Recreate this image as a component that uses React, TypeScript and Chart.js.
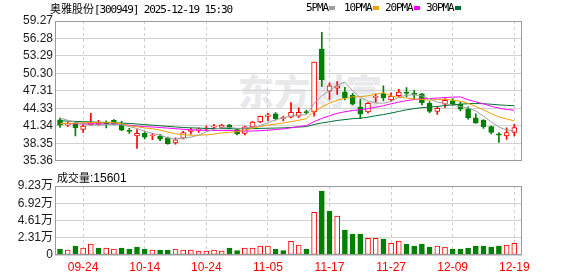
import React, { useEffect, useRef } from 'react';
import { Chart, registerables } from 'chart.js';

Chart.register(...registerables);

// ---------- data ----------
const dates = [
  '09-19', '09-22', '09-23', '09-24', '09-25', '09-26', '09-29', '09-30', '10-09', '10-10',
  '10-13', '10-14', '10-15', '10-16', '10-17', '10-20', '10-21', '10-22', '10-23', '10-24',
  '10-27', '10-28', '10-29', '10-30', '10-31', '11-03', '11-04', '11-05', '11-06', '11-07',
  '11-10', '11-11', '11-12', '11-13', '11-14', '11-17', '11-18', '11-19', '11-20', '11-21',
  '11-24', '11-25', '11-26', '11-27', '11-28', '12-01', '12-02', '12-03', '12-04', '12-05',
  '12-08', '12-09', '12-10', '12-11', '12-12', '12-15', '12-16', '12-17', '12-18', '12-19',
];

const opens = [
  42.38, 41.5, 41.83, 40.72, 41.5, 41.6, 41.9, 42.28, 41.45, 40.6,
  39.63, 40.06, 39.6, 39.6, 39.23, 38.4, 39.23, 40.4, 40.6, 40.8,
  41.1, 41.06, 41.46, 40.72, 40.06, 41.17, 42.0, 42.95, 43.38, 42.6,
  42.83, 43.0, 43.77, 43.71, 54.45, 47.27, 47.8, 47.15, 46.54, 44.5,
  43.7, 46.2, 46.87, 45.77, 46.5, 47.1, 46.9, 46.8, 45.2, 43.8,
  45.05, 45.6, 45.05, 44.2, 42.7, 42.3, 41.2, 39.97, 39.6, 40.2,
];
const highs = [
  42.66, 42.0, 42.0, 41.8, 43.5, 42.3, 42.2, 42.4, 42.1, 40.9,
  40.72, 40.3, 40.06, 39.9, 39.4, 39.3, 40.4, 40.9, 41.0, 41.3,
  41.6, 41.6, 41.6, 40.9, 41.3, 42.1, 43.0, 43.5, 43.6, 43.0,
  45.32, 44.4, 44.04, 52.26, 57.33, 48.64, 48.9, 47.93, 46.9, 45.87,
  45.3, 46.8, 48.2, 47.0, 47.6, 47.9, 47.4, 46.9, 45.5, 44.6,
  46.0, 46.0, 45.4, 44.6, 43.4, 42.4, 41.3, 40.2, 41.0, 41.6,
];
const lows = [
  41.06, 41.2, 39.63, 40.2, 41.4, 41.4, 41.0, 41.5, 40.5, 40.06,
  37.47, 39.1, 38.96, 38.8, 38.2, 38.2, 39.1, 39.9, 40.2, 40.5,
  40.9, 40.9, 40.8, 39.8, 39.8, 41.0, 41.9, 42.2, 42.3, 42.2,
  42.7, 42.8, 43.38, 43.0, 48.1, 45.87, 46.7, 45.77, 44.9, 42.55,
  43.5, 45.4, 45.6, 45.6, 46.2, 46.3, 46.0, 44.9, 43.6, 43.3,
  44.45, 44.8, 43.9, 42.5, 41.8, 40.9, 39.96, 38.5, 39.0, 39.6,
];
const closes = [
  41.44, 41.7, 41.0, 41.28, 41.83, 41.8, 41.7, 41.62, 40.62, 40.4,
  40.06, 39.4, 39.75, 39.06, 38.23, 38.96, 40.2, 40.6, 40.75, 40.95,
  41.3, 41.46, 40.9, 39.96, 41.17, 42.0, 42.95, 43.22, 42.55, 42.8,
  43.66, 43.66, 43.55, 52.26, 49.19, 48.2, 48.2, 46.15, 45.04, 43.38,
  45.2, 46.4, 46.1, 46.4, 47.1, 46.9, 46.7, 45.3, 43.8, 44.33,
  45.7, 45.05, 44.2, 42.7, 41.8, 41.2, 40.2, 39.73, 40.2, 41.06,
];

const ma5 = [
  42.66, 42.3, 41.95, 41.65, 41.45, 41.52, 41.52, 41.65, 41.51, 41.23,
  40.88, 40.42, 40.05, 39.73, 39.3, 39.08, 39.24, 39.41, 39.75, 40.29,
  40.76, 41.01, 41.07, 40.91, 40.96, 41.1, 41.4, 41.86, 42.38, 42.7,
  43.04, 43.18, 43.24, 45.19, 46.46, 47.37, 48.28, 48.8, 47.36, 46.19,
  45.59, 45.23, 45.22, 45.5, 46.24, 46.58, 46.64, 46.48, 45.96, 45.41,
  45.17, 44.84, 44.62, 44.4, 43.89, 42.99, 42.02, 41.13, 40.63, 40.48,
];
const ma10 = [
  41.7, 41.75, 41.8, 41.85, 41.9, 41.95, 41.95, 41.9, 41.7, 41.34,
  41.2, 40.97, 40.85, 40.62, 40.27, 39.98, 39.83, 39.73, 39.74, 39.8,
  39.92, 40.13, 40.24, 40.33, 40.63, 40.93, 41.21, 41.47, 41.65, 41.83,
  42.07, 42.29, 42.55, 43.79, 44.58, 45.21, 45.73, 46.02, 46.28, 46.33,
  46.48, 46.76, 47.01, 46.43, 46.22, 46.09, 45.94, 45.85, 45.73, 45.83,
  45.88, 45.74, 45.55, 45.18, 44.65, 44.08, 43.43, 42.88, 42.52, 42.19,
];
const ma20 = [
  41.75, 41.72, 41.7, 41.68, 41.68, 41.66, 41.64, 41.6, 41.55, 41.45,
  41.3, 41.2, 41.15, 41.05, 40.95, 40.85, 40.75, 40.65, 40.6, 40.57,
  40.56, 40.55, 40.55, 40.48, 40.45, 40.46, 40.52, 40.6, 40.7, 40.82,
  41.0, 41.21, 41.4, 42.06, 42.61, 43.07, 43.47, 43.75, 43.97, 44.08,
  44.28, 44.53, 44.78, 45.11, 45.4, 45.65, 45.84, 45.94, 46.01, 46.08,
  46.18, 46.25, 46.28, 45.81, 45.44, 45.09, 44.69, 44.37, 44.13, 44.01,
];
const ma30 = [
  42.2, 42.15, 42.1, 42.05, 42.0, 41.95, 41.9, 41.85, 41.8, 41.75,
  41.65, 41.55, 41.45, 41.35, 41.25, 41.15, 41.05, 41.0, 40.95, 40.9,
  40.88, 40.86, 40.85, 40.84, 40.85, 40.87, 40.9, 40.93, 40.96, 40.99,
  41.06, 41.13, 41.21, 41.58, 41.83, 42.04, 42.26, 42.41, 42.56, 42.65,
  42.82, 43.06, 43.27, 43.52, 43.81, 44.08, 44.29, 44.45, 44.55, 44.66,
  44.81, 44.93, 45.04, 45.13, 45.15, 45.13, 45.03, 44.92, 44.84, 44.78,
];

const volumes = [
  8000, 6700, 12000, 9400, 14700, 9400, 9400, 8000, 9400, 8000,
  10700, 8000, 6700, 6700, 6700, 8000, 6700, 6700, 5350, 5350,
  6700, 5350, 9400, 5800, 9400, 9400, 12000, 12000, 8000, 5800,
  18300, 13400, 8000, 57100, 85600, 58900, 52200, 33400, 28100, 28100,
  22300, 22300, 21400, 15600, 18700, 14700, 12000, 14700, 10700, 12000,
  10700, 8000, 8000, 9400, 12000, 12000, 10700, 12000, 13400, 15601,
];
// 1 = red (up) volume bar, 0 = green
const volUp = [
  0, 1, 0, 1, 1, 0, 1, 1, 0, 0,
  0, 0, 1, 0, 0, 1, 1, 1, 1, 1,
  1, 1, 0, 0, 1, 1, 1, 1, 0, 0,
  1, 1, 0, 1, 0, 0, 1, 0, 0, 0,
  1, 1, 0, 1, 1, 0, 0, 0, 0, 1,
  1, 0, 0, 0, 0, 0, 0, 0, 1, 1,
];

const xTickDates = ['09-24', '10-14', '10-24', '11-05', '11-17', '11-27', '12-09', '12-19'];
const priceTickLabels = ['35.36', '38.35', '41.34', '44.33', '47.31', '50.30', '53.29', '56.28', '59.27'];
const volTickLabels = ['0', '2.31万', '4.61万', '6.92万', '9.23万'];
const volTickValues = [0, 23075, 46150, 69225, 92300];
const legendItems = [
  { label: '5PMA', color: '#a0a0a0' },
  { label: '10PMA', color: '#f0a000' },
  { label: '20PMA', color: '#ff00ff' },
  { label: '30PMA', color: '#006f35' },
];
const titleName = '奥雅股份';
const titleCode = '[300949] 2025-12-19 15:30';
const volTitle = '成交量';
const lastVolume = '15601';
const watermark = '东方财富';

// ---------- styling ----------
const RED = '#ff0000';
const GREEN = '#008000';
const GRID = '#d2d2d2';
const FONT = "'Liberation Sans', 'Noto Sans CJK SC', sans-serif";
const X_MIN = -0.65;
const X_MAX = 60;

const xTickIdx = xTickDates.map((d) => dates.indexOf(d));
const priceTickValues = priceTickLabels.map((s) => parseFloat(s));

const framePlugin = {
  id: 'frame',
  afterDatasetsDraw(chart: any) {
    const { ctx, chartArea: a } = chart;
    ctx.save();
    ctx.strokeStyle = '#9a9a9a';
    ctx.lineWidth = 1;
    ctx.strokeRect(
      Math.round(a.left) + 0.5,
      Math.round(a.top) + 0.5,
      Math.round(a.right - a.left) - 1,
      Math.round(a.bottom - a.top) - 1
    );
    ctx.restore();
  },
};

function xScale(showLabels: boolean) {
  return {
    type: 'linear',
    min: X_MIN,
    max: X_MAX,
    offset: false,
    afterBuildTicks: (scale: any) => {
      scale.ticks = xTickIdx.map((v) => ({ value: v }));
    },
    afterFit: (scale: any) => {
      scale.height = showLabels ? 21 : 0;
    },
    grid: { color: '#cfcfcf', offset: false, drawTicks: false, lineWidth: 1 },
    border: { display: false, dash: [3, 3] },
    ticks: {
      display: showLabels,
      autoSkip: false,
      maxRotation: 0,
      padding: 5,
      color: RED,
      font: { family: FONT, size: 12 },
      callback: (v: any) => dates[Math.round(v)] ?? '',
    },
  };
}

function yTicks(values: number[], labels: string[]) {
  return {
    autoSkip: false,
    padding: 2,
    color: '#1a1a1a',
    font: { family: FONT, size: 12 },
    callback: (v: any) => {
      const k = values.findIndex((t) => Math.abs(t - v) < 1e-6);
      return k >= 0 ? labels[k] : '';
    },
  };
}

export default function App() {
  const priceRef = useRef<HTMLCanvasElement>(null);
  const volRef = useRef<HTMLCanvasElement>(null);

  useEffect(() => {
    const candleUp = closes.map((c, i) => c >= opens[i]);
    const idx = dates.map((_, i) => i);

    const lineDs = (data: number[], color: string) => ({
      type: 'line',
      data: data.map((v, i) => ({ x: i, y: v })),
      borderColor: color,
      borderWidth: 1,
      pointRadius: 0,
      tension: 0,
      order: 1,
    });

    const pc = new Chart(priceRef.current as HTMLCanvasElement, {
      type: 'bar',
      data: {
        datasets: [
          {
            type: 'bar',
            data: idx.map((i) => ({ x: i, y: [lows[i], highs[i]] })),
            backgroundColor: idx.map((i) => (candleUp[i] ? RED : GREEN)),
            borderWidth: 0,
            barThickness: 1,
            grouped: false,
            order: 3,
          },
          {
            type: 'bar',
            data: idx.map((i) => ({ x: i, y: [opens[i], closes[i]] })),
            backgroundColor: idx.map((i) => (candleUp[i] ? '#ffffff' : GREEN)),
            borderColor: idx.map((i) => (candleUp[i] ? RED : GREEN)),
            borderWidth: 1,
            borderSkipped: false,
            barThickness: 5,
            minBarLength: 1,
            grouped: false,
            order: 2,
          },
          lineDs(ma5, legendItems[0].color),
          lineDs(ma10, legendItems[1].color),
          lineDs(ma20, legendItems[2].color),
          lineDs(ma30, legendItems[3].color),
        ] as any,
      },
      options: {
        responsive: false,
        animation: false,
        devicePixelRatio: 1,
        layout: { padding: { top: 21, right: 56, bottom: 5, left: 0 } },
        plugins: { legend: { display: false }, tooltip: { enabled: false } },
        scales: {
          x: xScale(false) as any,
          y: {
            min: priceTickValues[0],
            max: priceTickValues[priceTickValues.length - 1],
            afterBuildTicks: (scale: any) => {
              scale.ticks = priceTickValues.map((v) => ({ value: v }));
            },
            afterFit: (scale: any) => {
              scale.width = 55;
            },
            grid: { color: GRID, drawTicks: false },
            border: { display: false },
            ticks: yTicks(priceTickValues, priceTickLabels) as any,
          },
        },
      },
      plugins: [framePlugin],
    });

    const vc = new Chart(volRef.current as HTMLCanvasElement, {
      type: 'bar',
      data: {
        datasets: [
          {
            type: 'bar',
            data: idx.map((i) => ({ x: i, y: volumes[i] })),
            backgroundColor: idx.map((i) => (volUp[i] ? '#ffffff' : GREEN)),
            borderColor: idx.map((i) => (volUp[i] ? RED : GREEN)),
            borderWidth: 1,
            borderSkipped: false,
            barThickness: 5,
            grouped: false,
          },
        ] as any,
      },
      options: {
        responsive: false,
        animation: false,
        devicePixelRatio: 1,
        layout: { padding: { top: 16, right: 56, bottom: 0, left: 0 } },
        plugins: { legend: { display: false }, tooltip: { enabled: false } },
        scales: {
          x: xScale(true) as any,
          y: {
            min: 0,
            max: volTickValues[volTickValues.length - 1],
            afterBuildTicks: (scale: any) => {
              scale.ticks = volTickValues.map((v) => ({ value: v }));
            },
            afterFit: (scale: any) => {
              scale.width = 55;
            },
            grid: { color: GRID, drawTicks: false },
            border: { display: false },
            ticks: yTicks(volTickValues, volTickLabels) as any,
          },
        },
      },
      plugins: [framePlugin],
    });

    return () => {
      pc.destroy();
      vc.destroy();
    };
  }, []);

  const mono: React.CSSProperties = {
    fontFamily: "'DejaVu Sans Mono', monospace",
    fontSize: 11,
    letterSpacing: '-1.1px',
  };
  const legendLeft = [306, 344, 385, 426];

  return (
    <div
      style={{
        position: 'fixed',
        left: 0,
        top: 0,
        width: 578,
        height: 276,
        background: '#ffffff',
        overflow: 'hidden',
        color: '#000',
      }}
    >
      <div
        style={{
          position: 'absolute',
          left: 238,
          top: 70,
          fontFamily: "'Noto Sans CJK SC', sans-serif",
          fontWeight: 900,
          fontSize: 36,
          lineHeight: '40px',
          color: '#e9e9ec',
          whiteSpace: 'nowrap',
          zIndex: 0,
        }}
      >
        {watermark}
      </div>
      <canvas
        ref={priceRef}
        width={578}
        height={170}
        style={{ position: 'absolute', left: 0, top: 0, width: 578, height: 170, zIndex: 1 }}
      />
      <canvas
        ref={volRef}
        width={578}
        height={106}
        style={{ position: 'absolute', left: 0, top: 170, width: 578, height: 106, zIndex: 1 }}
      />
      <div
        style={{
          position: 'absolute',
          left: 50,
          top: 1,
          lineHeight: '13px',
          whiteSpace: 'nowrap',
          zIndex: 2,
        }}
      >
        <span style={{ fontFamily: "'Noto Sans CJK SC', sans-serif", fontSize: 11 }}>{titleName}</span>
        <span style={mono}>{titleCode}</span>
      </div>
      {legendItems.map((it, k) => (
        <div
          key={it.label}
          style={{
            position: 'absolute',
            left: legendLeft[k],
            top: 1,
            height: 13,
            display: 'flex',
            alignItems: 'center',
            whiteSpace: 'nowrap',
            zIndex: 2,
          }}
        >
          <span style={mono}>{it.label}</span>
          <span
            style={{
              display: 'inline-block',
              width: 6,
              height: 4,
              marginLeft: 1,
              background: it.color,
            }}
          />
        </div>
      ))}
      <div
        style={{
          position: 'absolute',
          left: 57,
          top: 170,
          lineHeight: '14px',
          whiteSpace: 'nowrap',
          zIndex: 2,
        }}
      >
        <span style={{ fontFamily: "'Noto Sans CJK SC', sans-serif", fontSize: 11 }}>{volTitle}</span>
        <span style={{ fontFamily: FONT, fontSize: 12 }}>:{lastVolume}</span>
      </div>
    </div>
  );
}
